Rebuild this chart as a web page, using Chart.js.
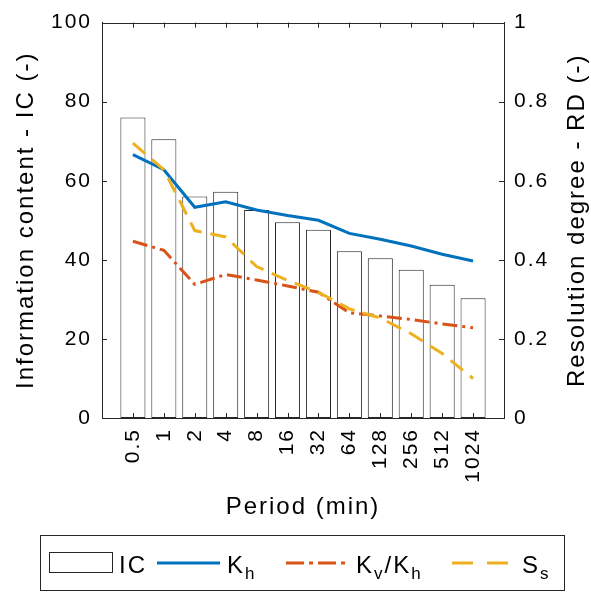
<!DOCTYPE html>
<html>
<head>
<title>Information content and resolution degree</title>
<style>
  html, body { margin: 0; padding: 0; background: #fff; }
  canvas { display: block; }
</style>
</head>
<body>
<canvas id="myChart" width="591" height="592"></canvas>
<script src="https://cdn.jsdelivr.net/npm/chart.js@4/dist/chart.umd.min.js"></script>
<script>
// periods (min) and the values
var periods = ['0.5', '1', '2', '4', '8', '16', '32', '64', '128', '256', '512', '1024'];
var icValues = [76, 70.5, 56, 57.2, 52.6, 49.5, 47.6, 42.2, 40.4, 37.5, 33.7, 30.3];        // left axis
var khValues = [0.666, 0.628, 0.533, 0.547, 0.526, 0.512, 0.500, 0.467, 0.452, 0.435, 0.414, 0.397]; // right axis
var kvkhValues = [0.447, 0.424, 0.338, 0.363, 0.349, 0.334, 0.318, 0.266, 0.258, 0.249, 0.238, 0.228];
var ssValues = [0.695, 0.628, 0.474, 0.458, 0.383, 0.348, 0.318, 0.276, 0.253, 0.213, 0.163, 0.100];
var leftTicks = [0, 20, 40, 60, 80, 100];
var rightTicks = [0, 0.2, 0.4, 0.6, 0.8, 1];

var axisColor = '#262626';
var fontFamily = "'Liberation Sans', Arial, sans-serif";
Chart.defaults.font.family = fontFamily;
Chart.defaults.color = '#000';

// one empty slot on each side so the first/last bars sit a full step from the box
function pad(arr) { return [null].concat(arr).concat([null]); }
var xLabels = [''].concat(periods).concat(['']);

var legendItems = [
    { ds: 3, start: 49, text: [['IC', false]] },
    { ds: 2, start: 157, text: [['K', false], ['h', true]] },
    { ds: 1, start: 286, text: [['K', false], ['v', true], ['/K', false], ['h', true]] },
    { ds: 0, start: 452, text: [['S', false], ['s', true]] }
];

function drawRich(ctx, parts, x, y) {
    ctx.textAlign = 'left';
    ctx.textBaseline = 'alphabetic';
    parts.forEach(function(p) {
        ctx.font = (p[1] ? '17px ' : '24px ') + fontFamily;
        ctx.fillText(p[0], x, p[1] ? y + 6 : y);
        x += ctx.measureText(p[0]).width;
    });
}

var decor = {
    id: 'decor',
    beforeUpdate: function(chart) { chart.ctx.letterSpacing = '2px'; },
    beforeDraw: function(chart) { chart.ctx.letterSpacing = '2px'; },
    afterDraw: function(chart) {
        var ctx = chart.ctx, a = chart.chartArea;
        var sx = chart.scales.x, sy = chart.scales.y, sy1 = chart.scales.y1;
        ctx.save();
        ctx.strokeStyle = axisColor;
        ctx.lineWidth = 1;
        ctx.beginPath();
        // top edge of the box
        ctx.moveTo(a.left, Math.round(a.top) + 0.5);
        ctx.lineTo(a.right, Math.round(a.top) + 0.5);
        // inward tick marks
        leftTicks.forEach(function(v) {
            var p = Math.round(sy.getPixelForValue(v)) + 0.5;
            ctx.moveTo(a.left, p); ctx.lineTo(a.left + 5, p);
        });
        rightTicks.forEach(function(v) {
            var p = Math.round(sy1.getPixelForValue(v)) + 0.5;
            ctx.moveTo(a.right - 5, p); ctx.lineTo(a.right, p);
        });
        periods.forEach(function(_, i) {
            var p = Math.round(sx.getPixelForValue(i + 1)) + 0.5;
            ctx.moveTo(p, a.bottom); ctx.lineTo(p, a.bottom - 5);
            ctx.moveTo(p, a.top); ctx.lineTo(p, a.top + 5);
        });
        ctx.stroke();

        // right axis title, reading bottom to top
        ctx.save();
        ctx.translate(577, (a.top + a.bottom) / 2);
        ctx.rotate(-Math.PI / 2);
        ctx.font = '24px ' + fontFamily;
        ctx.fillStyle = '#000';
        ctx.textAlign = 'center';
        ctx.textBaseline = 'middle';
        ctx.fillText('Resolution degree - RD (-)', 0, 0);
        ctx.restore();

        // legend box
        ctx.fillStyle = '#fff';
        ctx.fillRect(40.5, 535.5, 524, 55);
        ctx.strokeStyle = axisColor;
        ctx.strokeRect(40.5, 535.5, 524, 55);
        var ly = 563;
        legendItems.forEach(function(it) {
            var ds = chart.data.datasets[it.ds];
            ctx.save();
            if (ds.type === 'bar') {
                ctx.strokeStyle = ds.borderColor;
                ctx.lineWidth = 1;
                ctx.strokeRect(it.start + 0.5, 552.5, 63, 20);
            } else {
                ctx.strokeStyle = ds.borderColor;
                ctx.lineWidth = ds.borderWidth;
                ctx.setLineDash(ds.legendDash || ds.borderDash || []);
                ctx.beginPath();
                ctx.moveTo(it.start, ly);
                ctx.lineTo(it.start + 63, ly);
                ctx.stroke();
            }
            ctx.restore();
            ctx.fillStyle = '#000';
            drawRich(ctx, it.text, it.start + 70, 573);
        });
        ctx.restore();
    }
};

var ctx = document.getElementById('myChart').getContext('2d');
var chart = new Chart(ctx, {
    data: {
        labels: xLabels,
        datasets: [
            { type: 'line', label: 'Ss', data: pad(ssValues), yAxisID: 'y1', order: 1,
              borderColor: '#EDB120', borderWidth: 3, borderDash: [16, 9], legendDash: [21, 14],
              pointRadius: 0, tension: 0, fill: false },
            { type: 'line', label: 'Kv/Kh', data: pad(kvkhValues), yAxisID: 'y1', order: 2,
              borderColor: '#D95319', borderWidth: 3, borderDash: [15, 5, 3, 5], legendDash: [18, 5, 4, 5],
              pointRadius: 0, tension: 0, fill: false },
            { type: 'line', label: 'Kh', data: pad(khValues), yAxisID: 'y1', order: 3,
              borderColor: '#0072BD', borderWidth: 3,
              pointRadius: 0, tension: 0, fill: false },
            { type: 'bar', label: 'IC', data: pad(icValues), yAxisID: 'y', order: 4,
              backgroundColor: '#fff', borderColor: axisColor, borderWidth: 1, borderSkipped: false,
              categoryPercentage: 1, barPercentage: 0.81 }
        ]
    },
    options: {
        responsive: false,
        animation: false,
        devicePixelRatio: 1,
        layout: { padding: { left: 0, right: 0, top: 17, bottom: 60 } },
        plugins: { legend: { display: false }, tooltip: { enabled: false } },
        scales: {
            x: {
                type: 'category',
                offset: false,
                grid: { display: false, drawTicks: false },
                border: { display: true, color: axisColor },
                ticks: { autoSkip: false, minRotation: 90, maxRotation: 90, padding: 10,
                         font: { size: 21 }, color: '#000' },
                title: { display: true, text: 'Period (min)', font: { size: 24 }, color: '#000',
                         padding: { top: 0, bottom: 10 } },
                afterFit: function(s) { s.height = 114; }
            },
            y: {
                position: 'left',
                min: 0, max: 100,
                grid: { display: false, drawTicks: false },
                border: { display: true, color: axisColor },
                ticks: { stepSize: 20, padding: 10, font: { size: 21 }, color: '#000' },
                title: { display: true, text: 'Information content - IC (-)', font: { size: 24 }, color: '#000',
                         padding: { top: 12, bottom: 0 } },
                afterFit: function(s) { s.width = 102; }
            },
            y1: {
                position: 'right',
                min: 0, max: 1,
                grid: { display: false, drawTicks: false },
                border: { display: true, color: axisColor },
                ticks: { stepSize: 0.2, padding: 10, font: { size: 21 }, color: '#000',
                         callback: function(v) { return String(Math.round(v * 10) / 10); } },
                afterFit: function(s) { s.width = 87; }
            }
        }
    },
    plugins: [decor]
});
</script>
</body>
</html>
